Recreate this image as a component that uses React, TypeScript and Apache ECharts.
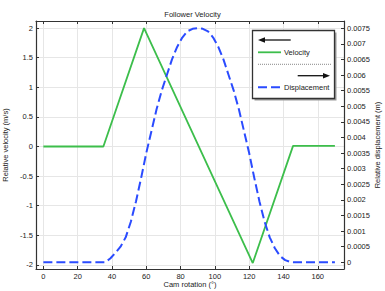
import React, { useEffect, useRef } from "react";
import * as echarts from "echarts";

const rotation = [0, 35, 58.7, 122.1, 145.6, 170];
const velocity = [0, 0, 2, -1.97, 0.01, 0.01];

const dispRotation = [
  0, 36, 39, 42, 45, 48, 51, 54, 57, 60, 63, 66, 69, 72, 75, 78, 81, 84, 87, 90,
  93, 96, 99, 102, 105, 108, 111, 114, 117, 120, 123, 126, 129, 132, 135, 138,
  141, 144, 146, 170,
];
const displacement = [
  0, 0, 0.00012, 0.0003, 0.0005, 0.0008, 0.0013, 0.00195, 0.0027, 0.0035,
  0.0042, 0.0049, 0.0055, 0.006, 0.0065, 0.0069, 0.0072, 0.0074, 0.00748,
  0.0075, 0.00748, 0.0074, 0.0072, 0.0069, 0.0065, 0.006, 0.0055, 0.0049,
  0.0042, 0.0035, 0.0027, 0.00195, 0.0013, 0.0008, 0.00045, 0.0002, 0.00007,
  0.00001, 0, 0,
];

const xTicks = [0, 20, 40, 60, 80, 100, 120, 140, 160];
const yLeftTicks = [-2, -1.5, -1, -0.5, 0, 0.5, 1, 1.5, 2];
const yRightTicks = [
  0, 0.0005, 0.001, 0.0015, 0.002, 0.0025, 0.003, 0.0035, 0.004, 0.0045, 0.005,
  0.0055, 0.006, 0.0065, 0.007, 0.0075,
];

const FONT = "Liberation Sans";
const TXT = "#222";
const AX = "#333";

export default function App() {
  const ref = useRef<HTMLDivElement>(null);
  useEffect(() => {
    document.body.style.margin = "0";
    const chart = echarts.init(ref.current!, null, { renderer: "svg" });
    const commonLabel = { fontFamily: FONT, fontSize: 7.5, color: TXT };
    chart.setOption({
      animation: false,
      backgroundColor: "#fff",
      title: {
        text: "Follower Velocity",
        left: "center",
        top: 5,
        textStyle: { fontFamily: FONT, fontSize: 7.5, fontWeight: "normal", color: TXT },
      },
      grid: { left: 36, top: 21, right: 41, bottom: 22, containLabel: false, outerBoundsMode: "none" },
      xAxis: [
        {
          type: "value",
          min: -4.3,
          max: 175.3,
          name: "Cam rotation (°)",
          nameLocation: "middle",
          nameGap: 11,
          nameMoveOverlap: false,
          nameTextStyle: commonLabel,
          axisLine: { show: true, onZero: false, lineStyle: { color: AX, width: 1.2 } },
          axisTick: { show: true, inside: true, length: 3, customValues: xTicks, lineStyle: { color: AX } },
          axisLabel: { ...commonLabel, margin: 3, customValues: xTicks },
          splitLine: { show: true, lineStyle: { color: "#e6e6e6", width: 1 } },
        },
        {
          type: "value",
          position: "top",
          min: -4.3,
          max: 175.3,
          axisLine: { show: true, onZero: false, lineStyle: { color: AX, width: 1.2 } },
          axisTick: { show: true, inside: true, length: 3, customValues: xTicks, lineStyle: { color: AX } },
          axisLabel: { show: false, customValues: xTicks },
          splitLine: { show: false },
        },
      ],
      yAxis: [
        {
          type: "value",
          min: -2.07,
          max: 2.12,
          name: "Relative velocity (m/s)",
          nameLocation: "middle",
          nameRotate: 90,
          nameGap: 27,
          nameMoveOverlap: false,
          nameTextStyle: commonLabel,
          axisLine: { show: true, onZero: false, lineStyle: { color: AX, width: 1.2 } },
          axisTick: { show: true, inside: true, length: 3, customValues: yLeftTicks, lineStyle: { color: AX } },
          axisLabel: { ...commonLabel, margin: 3, customValues: yLeftTicks },
          splitLine: { show: true, lineStyle: { color: "#e6e6e6", width: 1 } },
        },
        {
          type: "value",
          position: "right",
          min: -0.000215,
          max: 0.00773,
          name: "Relative displacement (m)",
          nameLocation: "middle",
          nameRotate: 90,
          nameGap: 29,
          nameMoveOverlap: false,
          nameTextStyle: commonLabel,
          axisLine: { show: true, onZero: false, lineStyle: { color: AX, width: 1.2 } },
          axisTick: { show: true, inside: true, length: 3, customValues: yRightTicks, lineStyle: { color: AX } },
          axisLabel: {
            ...commonLabel,
            margin: 3,
            customValues: yRightTicks,
            formatter: (v: number) => String(Number(v.toFixed(5))),
          },
          splitLine: { show: false },
        },
      ],
      series: [
        {
          type: "line",
          name: "Velocity",
          xAxisIndex: 0,
          yAxisIndex: 0,
          symbol: "none",
          data: rotation.map((x, i) => [x, velocity[i]]),
          lineStyle: { color: "#3cbe4b", width: 1.8 },
          z: 3,
        },
        {
          type: "line",
          name: "Displacement",
          xAxisIndex: 0,
          yAxisIndex: 1,
          symbol: "none",
          data: dispRotation.map((x, i) => [x, displacement[i]]),
          lineStyle: { color: "#2a4bff", width: 2, type: [9, 4] },
          z: 4,
        },
      ],
      graphic: [
        { type: "rect", shape: { x: 254.5, y: 32.5, width: 82, height: 68 }, style: { fill: "#999" }, z: 10 },
        { type: "rect", shape: { x: 252.5, y: 30.5, width: 82, height: 68 }, style: { fill: "#fff", stroke: "#333", lineWidth: 1.3 }, z: 11 },
        { type: "line", shape: { x1: 262, y1: 40, x2: 290.7, y2: 40 }, style: { stroke: "#111", lineWidth: 1.3 }, z: 12 },
        { type: "polygon", shape: { points: [[258, 40], [265, 37.3], [265, 42.7]] }, style: { fill: "#111" }, z: 12 },
        { type: "line", shape: { x1: 258, y1: 52.3, x2: 281, y2: 52.3 }, style: { stroke: "#3cbe4b", lineWidth: 1.8 }, z: 12 },
        { type: "text", x: 284, y: 52.3, style: { text: "Velocity", fontFamily: FONT, fontSize: 7.5, fill: TXT, verticalAlign: "middle" }, z: 12 },
        { type: "line", shape: { x1: 258, y1: 64.3, x2: 331, y2: 64.3 }, style: { stroke: "#555", lineWidth: 0.7, lineDash: [1, 1] }, z: 12 },
        { type: "line", shape: { x1: 297.7, y1: 75.7, x2: 325, y2: 75.7 }, style: { stroke: "#111", lineWidth: 1.3 }, z: 12 },
        { type: "polygon", shape: { points: [[330, 75.7], [323, 73], [323, 78.4]] }, style: { fill: "#111" }, z: 12 },
        { type: "line", shape: { x1: 258, y1: 87.3, x2: 281, y2: 87.3 }, style: { stroke: "#2a4bff", lineWidth: 2, lineDash: [9, 4] }, z: 12 },
        { type: "text", x: 284, y: 87.3, style: { text: "Displacement", fontFamily: FONT, fontSize: 7.5, fill: TXT, verticalAlign: "middle" }, z: 12 },
      ],
    });
    return () => chart.dispose();
  }, []);
  return <div ref={ref} style={{ width: 385, height: 291 }} />;
}
